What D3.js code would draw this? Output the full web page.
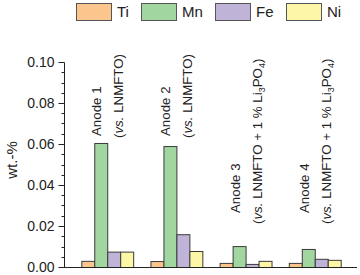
<!DOCTYPE html>
<html lang="en">
<head>
  <meta charset="UTF-8">
  <title>Dissolved transition metals on anodes</title>
  <script src="https://d3js.org/d3.v7.min.js"></script>
  <style>
    body { margin: 0; background: #fff; }
    svg { display: block; font-family: "Liberation Sans", Arial, sans-serif; }
  </style>
</head>
<body>
  <svg id="chart" width="360" height="275"></svg>
  <script>
    // Data (wt.-%)
    const anodes = ["Anode 1", "Anode 2", "Anode 3", "Anode 4"];
    const elements = ["Ti", "Mn", "Fe", "Ni"];
    const tiValues = [0.0030, 0.0029, 0.0020, 0.0020];
    const mnValues = [0.0605, 0.0590, 0.0102, 0.0088];
    const feValues = [0.0075, 0.0160, 0.0015, 0.0040];
    const niValues = [0.0075, 0.0078, 0.0030, 0.0035];
    const yTicks = [0, 0.02, 0.04, 0.06, 0.08, 0.10];
    // subtitle pieces: [text, style] with style "i" italic, "s" subscript
    const subtitles = [
      [["(", ""], ["vs.", "i"], [" LNMFTO)", ""]],
      [["(", ""], ["vs.", "i"], [" LNMFTO)", ""]],
      [["(", ""], ["vs.", "i"], [" LNMFTO + 1 % Li", ""], ["3", "s"], ["PO", ""], ["4", "s"], [")", ""]],
      [["(", ""], ["vs.", "i"], [" LNMFTO + 1 % Li", ""], ["3", "s"], ["PO", ""], ["4", "s"], [")", ""]]
    ];

    const colors = { Ti: "#fac68d", Mn: "#a2d6a0", Fe: "#c0b3d8", Ni: "#fdf6a6" };
    const series = { Ti: tiValues, Mn: mnValues, Fe: feValues, Ni: niValues };

    const svg = d3.select("#chart");
    const axisX = 64, plotRight = 357, y0 = 267;

    const y = d3.scaleLinear().domain([0, 0.10]).range([y0, 62]);
    const x = d3.scaleBand().domain(anodes).range([axisX, plotRight + 1])
      .paddingInner(0.25).paddingOuter(0.25);
    const xSub = d3.scaleBand().domain(elements).range([0, x.bandwidth()]);

    // bars
    const groups = svg.append("g").selectAll("g")
      .data(anodes).enter().append("g")
      .attr("transform", d => `translate(${x(d)},0)`);

    groups.selectAll("rect")
      .data((d, i) => elements.map(e => ({ el: e, v: series[e][i] })))
      .enter().append("rect")
      .attr("x", d => xSub(d.el) + 0.5)
      .attr("y", d => y(d.v) + 0.5)
      .attr("width", xSub.bandwidth())
      .attr("height", d => y0 - y(d.v))
      .attr("fill", d => colors[d.el])
      .attr("stroke", "#3a3a3a")
      .attr("stroke-width", 1);

    // y axis with minor ticks
    const minor = d3.range(0, 0.1001, 0.005).filter(v => Math.round(v * 1000) % 20 !== 0);
    const yAxis = svg.append("g").attr("transform", `translate(${axisX + 0.5},0.5)`);
    yAxis.append("line").attr("x1", 0).attr("x2", 0).attr("y1", y(0.1)).attr("y2", y0)
      .attr("stroke", "#222");
    yAxis.selectAll(".minor").data(minor).enter().append("line")
      .attr("x1", -3).attr("x2", 0).attr("y1", d => Math.round(y(d))).attr("y2", d => Math.round(y(d)))
      .attr("stroke", "#222");
    yAxis.selectAll(".major").data(yTicks).enter().append("line")
      .attr("x1", -6).attr("x2", 0).attr("y1", d => Math.round(y(d))).attr("y2", d => Math.round(y(d)))
      .attr("stroke", "#222");
    yAxis.selectAll("text").data(yTicks).enter().append("text")
      .attr("x", -10).attr("y", d => y(d)).attr("dy", "0.35em")
      .attr("text-anchor", "end").attr("font-size", 14).attr("fill", "#222")
      .text(d3.format(".2f"));

    // x axis line
    svg.append("line").attr("x1", axisX).attr("x2", plotRight)
      .attr("y1", y0 + 0.5).attr("y2", y0 + 0.5).attr("stroke", "#222");

    // y title
    svg.append("text")
      .attr("transform", `translate(17,160) rotate(-90)`)
      .attr("text-anchor", "middle").attr("font-size", 15).attr("fill", "#222")
      .text("wt.-%");

    // group labels (rotated)
    const titleStart = [136, 136, 213, 213];
    const subStart = [138, 138, 224, 224];
    anodes.forEach((a, i) => {
      const cx = x(a) + x.bandwidth() / 2;
      svg.append("text")
        .attr("transform", `translate(${cx - 6},${titleStart[i]}) rotate(-90)`)
        .attr("font-size", 13.3).attr("fill", "#222")
        .text(a);
      const t = svg.append("text")
        .attr("transform", `translate(${cx + 16},${subStart[i]}) rotate(-90)`)
        .attr("font-size", 13.3).attr("fill", "#222");
      subtitles[i].forEach(([s, st]) => {
        const ts = t.append("tspan").text(s);
        if (st === "i") ts.attr("font-style", "italic");
        if (st === "s") ts.attr("font-size", 9).attr("dy", 3);
        if (st === "" && ts.node().previousSibling &&
            ts.node().previousSibling.getAttribute("dy") === "3") ts.attr("dy", -3);
      });
    });

    // legend
    const legendX = [76, 141, 215, 286];
    const legend = svg.append("g").selectAll("g").data(elements).enter().append("g")
      .attr("transform", (d, i) => `translate(${legendX[i]},3)`);
    legend.append("rect").attr("x", 0.5).attr("y", 0.5).attr("width", 35).attr("height", 17)
      .attr("fill", d => colors[d]).attr("stroke", "#555");
    legend.append("text").attr("x", 41).attr("y", 9).attr("dy", "0.36em")
      .attr("font-size", 15).attr("fill", "#222").text(d => d);
  </script>
</body>
</html>
